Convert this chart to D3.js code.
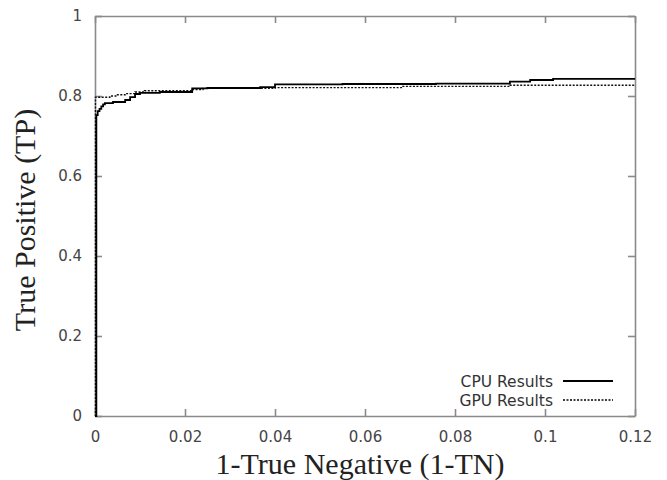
<!DOCTYPE html>
<html>
<head>
<meta charset="utf-8">
<script src="https://cdn.jsdelivr.net/npm/d3@7"></script>
<style>
  body { margin: 0; background: #fff; }
  .tick text { font-family: "DejaVu Sans", sans-serif; font-size: 15px; fill: #444; }
</style>
</head>
<body>
<div id="chart"></div>
<script>
// ROC curve points (false positive rate, true positive rate)
var cpuFpr = [0, 0.0003, 0.0006, 0.001, 0.0014, 0.0018, 0.0022, 0.004, 0.0067, 0.0078, 0.0089, 0.010, 0.0144, 0.0216, 0.025, 0.0367, 0.040, 0.055, 0.0758, 0.0922, 0.0967, 0.1018, 0.12];
var cpuTpr = [0, 0.752, 0.762, 0.768, 0.774, 0.779, 0.782, 0.785, 0.790, 0.797, 0.805, 0.808, 0.810, 0.819, 0.820, 0.822, 0.829, 0.830, 0.831, 0.836, 0.840, 0.843, 0.843];

var gpuFpr = [0, 0.0001, 0.0033, 0.005, 0.0067, 0.0089, 0.011, 0.0216, 0.024, 0.040, 0.0684, 0.0922, 0.12];
var gpuTpr = [0, 0.797, 0.800, 0.803, 0.806, 0.810, 0.813, 0.816, 0.819, 0.821, 0.824, 0.827, 0.827];

var xTicks = [0, 0.02, 0.04, 0.06, 0.08, 0.1, 0.12];
var yTicks = [0, 0.2, 0.4, 0.6, 0.8, 1];

var seriesNames = ["CPU Results", "GPU Results"];

var svgWidth = 667;
var svgHeight = 480;
var margin = { top: 16, right: 32, bottom: 64, left: 95 };
var width = svgWidth - margin.left - margin.right;
var height = svgHeight - margin.top - margin.bottom;

var svg = d3.select("#chart")
  .append("svg")
  .attr("width", svgWidth)
  .attr("height", svgHeight);

var chartGroup = svg.append("g")
  .attr("transform", `translate(${margin.left}, ${margin.top})`);

var xScale = d3.scaleLinear().domain([0, 0.12]).range([0, width]);
var yScale = d3.scaleLinear().domain([0, 1]).range([height, 0]);

var fmt = d3.format("");

// gnuplot style frame: ticks pointing inwards on all four sides
var bottomAxis = d3.axisBottom(xScale).tickValues(xTicks).tickFormat(fmt)
  .tickSizeInner(-7).tickSizeOuter(0).tickPadding(15);
var topAxis = d3.axisTop(xScale).tickValues(xTicks).tickFormat("")
  .tickSizeInner(-7).tickSizeOuter(0);
var leftAxis = d3.axisLeft(yScale).tickValues(yTicks).tickFormat(fmt)
  .tickSizeInner(-7).tickSizeOuter(0).tickPadding(13);
var rightAxis = d3.axisRight(yScale).tickValues(yTicks).tickFormat("")
  .tickSizeInner(-7).tickSizeOuter(0);

chartGroup.append("g").attr("transform", `translate(0, ${height})`).call(bottomAxis);
chartGroup.append("g").call(topAxis);
chartGroup.append("g").call(leftAxis);
chartGroup.append("g").attr("transform", `translate(${width}, 0)`).call(rightAxis);

chartGroup.selectAll(".domain, .tick line")
  .attr("stroke", "#8a8a8a")
  .attr("stroke-width", 1.6);

// curves
var cpuData = cpuFpr.map((x, i) => [x, cpuTpr[i]]);
var gpuData = gpuFpr.map((x, i) => [x, gpuTpr[i]]);

var line = d3.line()
  .x(d => xScale(d[0]))
  .y(d => yScale(d[1]))
  .curve(d3.curveStepAfter);

chartGroup.append("path")
  .datum(gpuData)
  .attr("d", line)
  .attr("fill", "none")
  .attr("stroke", "#111")
  .attr("stroke-width", 1.4)
  .attr("stroke-dasharray", "2,1.5");

chartGroup.append("path")
  .datum(cpuData)
  .attr("d", line)
  .attr("fill", "none")
  .attr("stroke", "#000")
  .attr("stroke-width", 1.8);

// legend
var legend = svg.append("g");
var dashes = [null, "2,1.5"];
seriesNames.forEach(function(name, i) {
  var yPos = 381 + i * 19;
  legend.append("text")
    .attr("x", 553)
    .attr("y", yPos + 6)
    .attr("text-anchor", "end")
    .attr("font-family", "DejaVu Sans, sans-serif")
    .attr("font-size", "15.5px")
    .attr("fill", "#333")
    .text(name);
  legend.append("line")
    .attr("x1", 563)
    .attr("x2", 613)
    .attr("y1", yPos)
    .attr("y2", yPos)
    .attr("stroke", "#000")
    .attr("stroke-width", i === 0 ? 1.8 : 1.4)
    .attr("stroke-dasharray", dashes[i]);
});

// axis titles
svg.append("text")
  .attr("x", margin.left + width / 2 - 5)
  .attr("y", 474)
  .attr("text-anchor", "middle")
  .attr("font-family", "Liberation Serif, serif")
  .attr("font-size", "30px")
  .attr("fill", "#222")
  .text("1-True Negative (1-TN)");

svg.append("text")
  .attr("transform", "translate(35, 220) rotate(-90)")
  .attr("text-anchor", "middle")
  .attr("font-family", "Liberation Serif, serif")
  .attr("font-size", "30px")
  .attr("fill", "#222")
  .text("True Positive (TP)");
</script>
</body>
</html>
